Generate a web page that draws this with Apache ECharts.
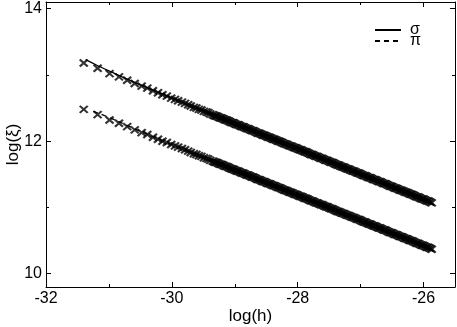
<!DOCTYPE html>
<html><head><meta charset="utf-8">
<script src="https://cdn.jsdelivr.net/npm/echarts@6/dist/echarts.min.js"></script>
<style>html,body{margin:0;padding:0;background:#fff}#c{width:457px;height:327px}</style>
</head><body><div id="c"></div>
<script>
// marker abscissae, log(h)
const logH = [-31.40,-31.18,-30.99,-30.84,-30.71,-30.59,-30.48,-30.39,-30.30,-30.22,-30.15,-30.08,-30.01,-29.95,-29.90,-29.84,-29.79,-29.74,-29.70,-29.65,-29.61,-29.57,-29.53,-29.49,-29.45,-29.42,-29.39,
-29.35,-29.31,-29.27,-29.23,-29.19,-29.15,-29.11,-29.07,-29.03,-28.99,
-28.95,-28.91,-28.87,-28.83,-28.79,-28.75,-28.71,-28.67,-28.63,-28.59,
-28.55,-28.51,-28.47,-28.43,-28.39,-28.35,-28.31,-28.27,-28.23,-28.19,
-28.15,-28.11,-28.07,-28.03,-27.99,-27.95,-27.91,-27.87,-27.83,-27.79,
-27.75,-27.71,-27.67,-27.63,-27.59,-27.55,-27.51,-27.47,-27.43,-27.39,
-27.35,-27.31,-27.27,-27.23,-27.19,-27.15,-27.11,-27.07,-27.03,-26.99,
-26.95,-26.91,-26.87,-26.83,-26.79,-26.75,-26.71,-26.67,-26.63,-26.59,
-26.55,-26.51,-26.47,-26.43,-26.39,-26.35,-26.31,-26.27,-26.23,-26.19,
-26.15,-26.11,-26.07,-26.03,-25.99,-25.95,-25.91,-25.87];
// log(xi) markers, sigma channel
const sigmaPts = [13.18,13.10,13.02,12.97,12.92,12.87,12.83,12.80,12.76,12.73,12.70,12.68,12.65,12.63,12.61,12.59,12.57,12.55,12.53,12.51,12.50,12.48,12.47,12.45,12.44,12.43,12.41,
12.40,12.38,12.37,12.35,12.34,12.32,12.31,12.29,12.28,12.26,
12.25,12.23,12.22,12.20,12.19,12.17,12.16,12.14,12.12,12.11,
12.09,12.08,12.06,12.05,12.03,12.02,12.00,11.99,11.97,11.96,
11.94,11.93,11.91,11.90,11.88,11.87,11.85,11.84,11.82,11.80,
11.79,11.77,11.76,11.74,11.73,11.71,11.70,11.68,11.67,11.65,
11.64,11.62,11.61,11.59,11.58,11.56,11.55,11.53,11.52,11.50,
11.48,11.47,11.45,11.44,11.42,11.41,11.39,11.38,11.36,11.35,
11.33,11.32,11.30,11.29,11.27,11.26,11.24,11.23,11.21,11.20,
11.18,11.16,11.15,11.13,11.12,11.10,11.09,11.07];
// log(xi) markers, pi channel
const piPts = [12.48,12.40,12.32,12.27,12.22,12.17,12.13,12.10,12.06,12.03,12.00,11.98,11.95,11.93,11.91,11.89,11.87,11.85,11.83,11.81,11.80,11.78,11.77,11.75,11.74,11.73,11.71,
11.70,11.68,11.67,11.65,11.64,11.62,11.61,11.59,11.58,11.56,
11.55,11.53,11.52,11.50,11.49,11.47,11.46,11.44,11.42,11.41,
11.39,11.38,11.36,11.35,11.33,11.32,11.30,11.29,11.27,11.26,
11.24,11.23,11.21,11.20,11.18,11.17,11.15,11.14,11.12,11.10,
11.09,11.07,11.06,11.04,11.03,11.01,11.00,10.98,10.97,10.95,
10.94,10.92,10.91,10.89,10.88,10.86,10.85,10.83,10.82,10.80,
10.78,10.77,10.75,10.74,10.72,10.71,10.69,10.68,10.66,10.65,
10.63,10.62,10.60,10.59,10.57,10.56,10.54,10.53,10.51,10.50,
10.48,10.46,10.45,10.43,10.42,10.40,10.39,10.37];
// further markers in the dense part of the band
const logHMid = [-29.33,-29.29,-29.25,-29.21,-29.17,-29.13,-29.09,-29.05,-29.01,-28.97,
-28.93,-28.89,-28.85,-28.81,-28.77,-28.73,-28.69,-28.65,-28.61,-28.57,
-28.53,-28.49,-28.45,-28.41,-28.37,-28.33,-28.29,-28.25,-28.21,-28.17,
-28.13,-28.09,-28.05,-28.01,-27.97,-27.93,-27.89,-27.85,-27.81,-27.77,
-27.73,-27.69,-27.65,-27.61,-27.57,-27.53,-27.49,-27.45,-27.41,-27.37,
-27.33,-27.29,-27.25,-27.21,-27.17,-27.13,-27.09,-27.05,-27.01,-26.97,
-26.93,-26.89,-26.85,-26.81,-26.77,-26.73,-26.69,-26.65,-26.61,-26.57,
-26.53,-26.49,-26.45,-26.41,-26.37,-26.33,-26.29,-26.25,-26.21,-26.17,
-26.13,-26.09,-26.05,-26.01,-25.97,-25.93,-25.89];
const sigmaMid = [12.39,12.38,12.36,12.35,12.33,12.32,12.30,12.28,12.27,12.25,
12.24,12.22,12.21,12.19,12.18,12.16,12.15,12.13,12.12,12.10,
12.09,12.07,12.06,12.04,12.03,12.01,12.00,11.98,11.96,11.95,
11.93,11.92,11.90,11.89,11.87,11.86,11.84,11.83,11.81,11.80,
11.78,11.77,11.75,11.74,11.72,11.71,11.69,11.68,11.66,11.64,
11.63,11.61,11.60,11.58,11.57,11.55,11.54,11.52,11.51,11.49,
11.48,11.46,11.45,11.43,11.42,11.40,11.39,11.37,11.36,11.34,
11.32,11.31,11.29,11.28,11.26,11.25,11.23,11.22,11.20,11.19,
11.17,11.16,11.14,11.13,11.11,11.10,11.08];
const piMid = [11.69,11.68,11.66,11.65,11.63,11.62,11.60,11.58,11.57,11.55,
11.54,11.52,11.51,11.49,11.48,11.46,11.45,11.43,11.42,11.40,
11.39,11.37,11.36,11.34,11.33,11.31,11.30,11.28,11.26,11.25,
11.23,11.22,11.20,11.19,11.17,11.16,11.14,11.13,11.11,11.10,
11.08,11.07,11.05,11.04,11.02,11.01,10.99,10.98,10.96,10.94,
10.93,10.91,10.90,10.88,10.87,10.85,10.84,10.82,10.81,10.79,
10.78,10.76,10.75,10.73,10.72,10.70,10.69,10.67,10.66,10.64,
10.62,10.61,10.59,10.58,10.56,10.55,10.53,10.52,10.50,10.49,
10.47,10.46,10.44,10.43,10.41,10.40,10.38];
// curves
const sigmaLineX = [-31.37,-31.2,-31.0,-30.6,-30.0,-29.0,-28.0,-27.0,-25.88];
const sigmaLineY = [13.23,13.15,13.06,12.89,12.65,12.27,11.89,11.51,11.08];
const piLineX = [-31.25,-31.0,-30.6,-30.0,-29.0,-28.0,-27.0,-25.88];
const piLineY = [12.45,12.36,12.19,11.95,11.57,11.19,10.81,10.38];
// ticks
const xMajor = [-32,-30,-28,-26];
const xMinor = [-31,-29,-27];
const yMajor = [10,12,14];
const yMinor = [11,13];
const xRange = [-32,-25.5];
const yRange = [9.8,14.1];

const FONT = 'Liberation Sans';
const pair = (xs, ys) => xs.map((x,i)=>[x, ys[i]]);

function xAx(grid, pos, ticks, len, labels) {
  return {
    type:'value', gridIndex:grid, position:pos, min:xRange[0], max:xRange[1],
    axisLine:{show:grid===0, lineStyle:{color:'#000', width:1}},
    axisTick:{show:true, inside:true, length:len, customValues:ticks, lineStyle:{color:'#000', width:1}},
    axisLabel:{show:labels, customValues:ticks, color:'#000', fontFamily:FONT, fontSize:16, margin:4},
    splitLine:{show:false},
    name: labels ? 'log(h)' : '', nameLocation:'middle', nameGap:21, nameMoveOverlap:false,
    nameTextStyle:{color:'#000', fontFamily:FONT, fontSize:17}
  };
}
function yAx(grid, pos, ticks, len, labels) {
  return {
    type:'value', gridIndex:grid, position:pos, min:yRange[0], max:yRange[1],
    axisLine:{show:grid===0, lineStyle:{color:'#000', width:1}},
    axisTick:{show:true, inside:true, length:len, customValues:ticks, lineStyle:{color:'#000', width:1}},
    axisLabel:{show:labels, customValues:ticks, color:'#000', fontFamily:FONT, fontSize:16, margin:4},
    splitLine:{show:false},
    name: labels ? 'log(ξ)' : '', nameLocation:'middle', nameGap:24, nameMoveOverlap:false,
    nameTextStyle:{color:'#000', fontFamily:FONT, fontSize:17}
  };
}

const gridBox = {left:46, right:2, top:2, bottom:40, outerBoundsMode:'none', containLabel:false};
const crossSym = 'path://M0,0L10,10M0,10L10,0';
const markerStyle = {color:'rgba(0,0,0,0)', borderColor:'#000', borderWidth:2.1};
const legendBase = {left:374, padding:0, itemWidth:26, itemHeight:14, itemGap:0,
  itemStyle:{opacity:0},
  textStyle:{color:'#000', fontFamily:FONT, fontSize:16, padding:[0,0,0,4]}};

const chart = echarts.init(document.getElementById('c'), null, {renderer:'canvas'});
chart.setOption({
  animation:false,
  backgroundColor:'#fff',
  grid:[Object.assign({}, gridBox), Object.assign({}, gridBox)],
  xAxis:[
    xAx(0,'bottom',xMajor,5,true), xAx(0,'top',xMajor,5,false),
    xAx(1,'bottom',xMinor,3,false), xAx(1,'top',xMinor,3,false)
  ],
  yAxis:[
    yAx(0,'left',yMajor,5,true), yAx(0,'right',yMajor,5,false),
    yAx(1,'left',yMinor,3,false), yAx(1,'right',yMinor,3,false)
  ],
  legend:[
    Object.assign({data:['σ'], top:22}, legendBase),
    Object.assign({data:['π'], top:33}, legendBase)
  ],
  series:[
    {name:'σ', type:'line', xAxisIndex:0, yAxisIndex:0, data:pair(sigmaLineX, sigmaLineY),
     symbol:'none', smooth:true, itemStyle:{color:'#000'}, lineStyle:{color:'#000', width:1.3, type:'solid'}, z:3},
    {name:'π', type:'line', xAxisIndex:0, yAxisIndex:0, data:pair(piLineX, piLineY),
     symbol:'none', smooth:true, itemStyle:{color:'#000'}, lineStyle:{color:'#000', width:1.3, type:[5,4]}, z:3},
    {name:'σ data', type:'scatter', xAxisIndex:0, yAxisIndex:0,
     data:pair(logH, sigmaPts).concat(pair(logHMid, sigmaMid)),
     symbol:crossSym, symbolSize:[8,7], itemStyle:markerStyle, z:2},
    {name:'π data', type:'scatter', xAxisIndex:0, yAxisIndex:0,
     data:pair(logH, piPts).concat(pair(logHMid, piMid)),
     symbol:crossSym, symbolSize:[8,7], itemStyle:markerStyle, z:2}
  ]
});
</script></body></html>
